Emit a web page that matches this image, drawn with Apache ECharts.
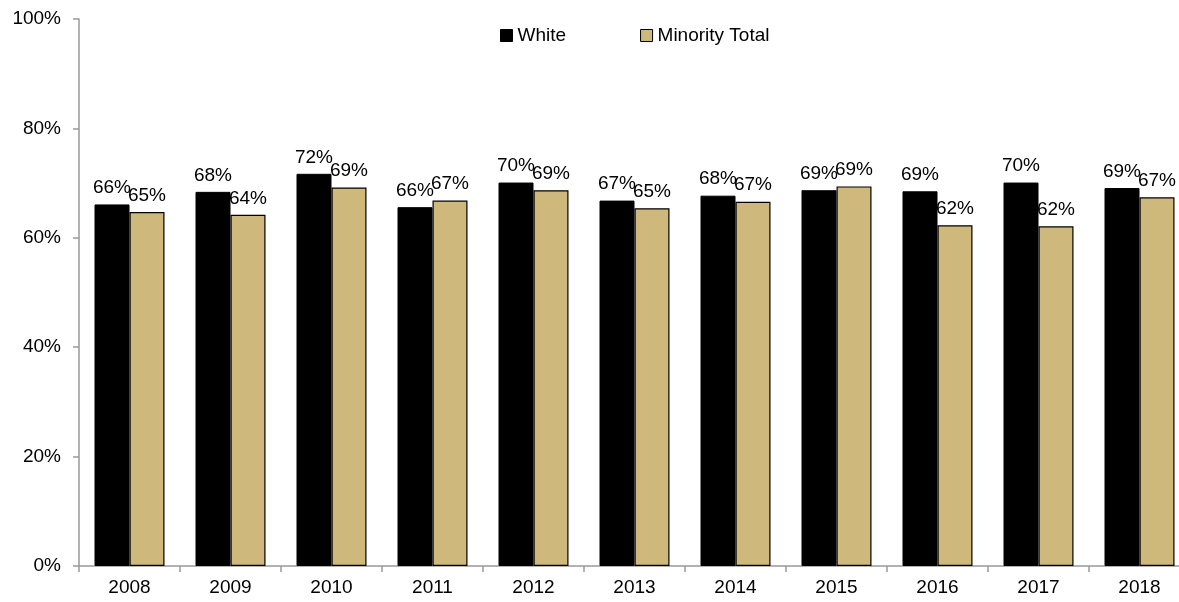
<!DOCTYPE html>
<html>
<head>
<meta charset="utf-8">
<script src="https://cdn.jsdelivr.net/npm/echarts@6/dist/echarts.min.js"></script>
<style>
html,body{margin:0;padding:0;background:#fff;}
#chart{width:1179px;height:602px;}
</style>
</head>
<body>
<div id="chart"></div>
<script>
var categories = ['2008','2009','2010','2011','2012','2013','2014','2015','2016','2017','2018'];
var whiteValues = [66.1, 68.4, 71.7, 65.6, 70.1, 66.8, 67.7, 68.7, 68.5, 70.1, 69.1];
var minorityValues = [64.7, 64.2, 69.2, 66.8, 68.7, 65.4, 66.6, 69.4, 62.3, 62.1, 67.4];
var seriesNames = ['White', 'Minority Total'];

var FONT = '"Liberation Sans", Arial, sans-serif';
var chart = echarts.init(document.getElementById('chart'));
var labelCfg = {
  show: true,
  position: 'top',
  distance: 7,
  color: '#000',
  fontFamily: FONT,
  fontSize: 19,
  formatter: function (p) { return Math.round(p.value) + '%'; }
};
chart.setOption({
  animation: false,
  backgroundColor: '#fff',
  legend: {
    left: 495,
    top: 21,
    itemWidth: 12,
    itemHeight: 12,
    itemGap: 74,
    icon: 'rect',
    textStyle: { fontFamily: FONT, fontSize: 19, color: '#000' },
    data: [
      { name: seriesNames[0], itemStyle: { color: '#000', borderColor: '#000', borderWidth: 1 } },
      { name: seriesNames[1], itemStyle: { color: '#CEB87C', borderColor: '#000', borderWidth: 1 } }
    ]
  },
  grid: { left: 79, top: 19, width: 1111, height: 547, containLabel: false, outerBoundsMode: 'none' },
  xAxis: {
    type: 'category',
    data: categories,
    boundaryGap: true,
    axisLine: { show: true, lineStyle: { color: '#999', width: 1.5 } },
    axisTick: { show: true, alignWithLabel: false, length: 6, lineStyle: { color: '#999', width: 1.5 } },
    axisLabel: { color: '#000', fontFamily: FONT, fontSize: 19, margin: 12 },
    splitLine: { show: false }
  },
  yAxis: {
    type: 'value',
    min: 0,
    max: 100,
    interval: 20,
    axisLine: { show: true, lineStyle: { color: '#999', width: 1.5 } },
    axisTick: { show: true, length: 6, lineStyle: { color: '#999', width: 1.5 } },
    axisLabel: { color: '#000', fontFamily: FONT, fontSize: 19, margin: 18, formatter: '{value}%' },
    splitLine: { show: false }
  },
  series: [
    {
      name: seriesNames[0],
      type: 'bar',
      data: whiteValues,
      barWidth: 35,
      barGap: '0%',
      itemStyle: { color: '#000', borderColor: '#000', borderWidth: 1 },
      label: labelCfg
    },
    {
      name: seriesNames[1],
      type: 'bar',
      data: minorityValues,
      barWidth: 35,
      barGap: '0%',
      itemStyle: { color: '#CEB87C', borderColor: '#000', borderWidth: 1.2 },
      label: labelCfg
    }
  ]
});
</script>
</body>
</html>
